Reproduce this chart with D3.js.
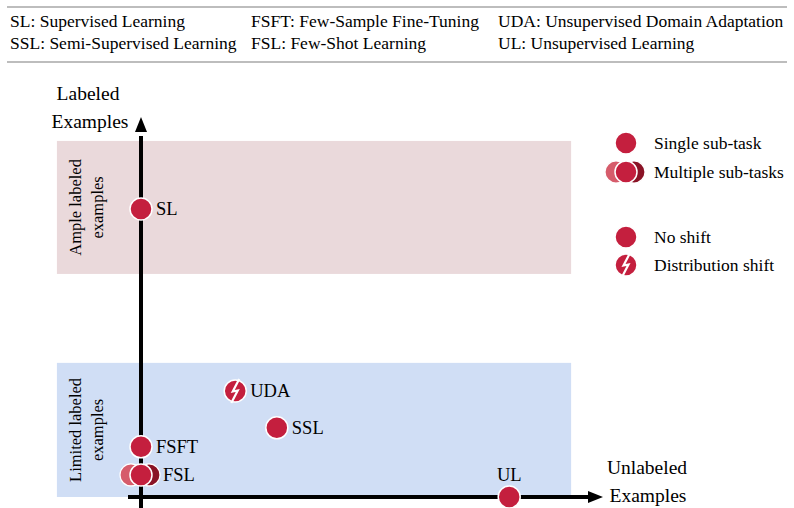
<!DOCTYPE html>
<html>
<head>
<meta charset="utf-8">
<script src="https://cdn.jsdelivr.net/npm/d3@7"></script>
<style>
  body { margin: 0; background: #fff; }
  svg { display: block; font-family: "Liberation Serif", "DejaVu Serif", serif; }
</style>
</head>
<body>
<div id="container"></div>
<script>
// abbreviations shown in the header
const abbrevCol1 = ["SL: Supervised Learning", "SSL: Semi-Supervised Learning"];
const abbrevCol2 = ["FSFT: Few-Sample Fine-Tuning", "FSL: Few-Shot Learning"];
const abbrevCol3 = ["UDA: Unsupervised Domain Adaptation", "UL: Unsupervised Learning"];

// settings: x = amount of unlabeled examples, y = amount of labeled examples (0-100)
const names = ["SL", "FSFT", "FSL", "UDA", "SSL", "UL"];
const unlabeled = [0, 0, 0, 20.4, 29.4, 79.7];
const labeled = [75.8, 13.2, 5.8, 27.9, 18.2, 0];
const multiTask = [false, false, true, false, false, false];
const shifted = [false, false, false, true, false, false];

// shaded bands (in the same units)
const bandNames = [["Ample labeled", "examples"], ["Limited labeled", "examples"]];
const bandTop = [93.7, 35.3];
const bandBottom = [58.7, 0];
const bandLeft = -18.2, bandRight = 93.1;
const bandColors = ["#ead9db", "#d0def5"];

const legendLabels = ["Single sub-task", "Multiple sub-tasks", "No shift", "Distribution shift"];

const width = 794, height = 508;
const red = "#c41f3e", redLight = "#d65c6b", redDark = "#8a1326";

const svg = d3.select("#container").append("svg")
    .attr("width", width)
    .attr("height", height);

const x = d3.scaleLinear().domain([0, 100]).range([141, 603]);
const y = d3.scaleLinear().domain([0, 100]).range([497, 117]);

/* header */
svg.selectAll(".rule")
    .data([7, 62])
    .enter().append("line")
    .attr("x1", 7).attr("x2", 787)
    .attr("y1", d => d).attr("y2", d => d)
    .attr("stroke", "#bdbdbd").attr("stroke-width", 2);

[[abbrevCol1, 10], [abbrevCol2, 251], [abbrevCol3, 498]].forEach(([col, cx]) => {
    svg.selectAll(null).data(col).enter().append("text")
        .attr("x", cx)
        .attr("y", (d, i) => 27 + i * 22)
        .attr("font-size", 17.5)
        .text(d => d);
});

/* bands */
const bands = svg.append("g");
bandNames.forEach((lines, i) => {
    bands.append("rect")
        .attr("x", x(bandLeft))
        .attr("y", y(bandTop[i]))
        .attr("width", x(bandRight) - x(bandLeft))
        .attr("height", y(bandBottom[i]) - y(bandTop[i]))
        .attr("fill", bandColors[i]);
    const cy = (y(bandTop[i]) + y(bandBottom[i])) / 2;
    const t = bands.append("text")
        .attr("transform", `translate(82, ${cy}) rotate(-90)`)
        .attr("text-anchor", "middle")
        .attr("font-size", 16.5);
    lines.forEach((l, j) => {
        t.append("tspan").attr("x", 0).attr("dy", j === 0 ? -1 : 22).text(l);
    });
});

/* axes */
const axes = svg.append("g").attr("stroke", "#000").attr("stroke-width", 4);
axes.append("line").attr("x1", x(0)).attr("x2", x(0)).attr("y1", 508).attr("y2", y(54.5));
axes.append("line").attr("x1", x(0)).attr("x2", x(0)).attr("y1", y(36.6)).attr("y2", y(95));
axes.append("line").attr("x1", x(0)).attr("x2", x(0)).attr("y1", y(54.5)).attr("y2", y(36.6))
    .attr("stroke-dasharray", "4 5").attr("stroke-dashoffset", -4);
axes.append("line").attr("x1", 128).attr("x2", x(97)).attr("y1", y(0)).attr("y2", y(0));
svg.append("path")
    .attr("d", `M${x(0)},${y(100)} L${x(0) - 6},${y(100) + 15} L${x(0) + 6},${y(100) + 15} Z`)
    .attr("fill", "#000");
svg.append("path")
    .attr("d", `M${x(100)},${y(0)} L${x(100) - 15},${y(0) - 6} L${x(100) - 15},${y(0) + 6} Z`)
    .attr("fill", "#000");

svg.append("text").attr("x", 88).attr("y", 100).attr("text-anchor", "middle").attr("font-size", 19.5).text("Labeled");
svg.append("text").attr("x", 90).attr("y", 128).attr("text-anchor", "middle").attr("font-size", 19.5).text("Examples");
svg.append("text").attr("x", 647).attr("y", 474).attr("text-anchor", "middle").attr("font-size", 19.5).text("Unlabeled");
svg.append("text").attr("x", 648).attr("y", 502).attr("text-anchor", "middle").attr("font-size", 19.5).text("Examples");

/* markers */
const R = 11;
function marker(g, multi, shift) {
    if (multi) {
        g.append("circle").attr("cx", -10).attr("r", R).attr("fill", redLight).attr("stroke", "#fff").attr("stroke-width", 1.2);
        g.append("circle").attr("cx", 8).attr("r", R).attr("fill", redDark).attr("stroke", "#fff").attr("stroke-width", 1.2);
    }
    g.append("circle").attr("r", R).attr("fill", red).attr("stroke", "#fff").attr("stroke-width", 1.5);
    if (shift) {
        g.append("path")
            .attr("d", "M4,-12 L-2.5,0.5 L2.5,-0.5 L-4,12")
            .attr("fill", "none").attr("stroke", "#fff").attr("stroke-width", 2.2)
            .attr("stroke-linejoin", "miter");
    }
}

names.forEach((n, i) => {
    const g = svg.append("g").attr("transform", `translate(${x(unlabeled[i])}, ${y(labeled[i])})`);
    marker(g, multiTask[i], shifted[i]);
    const lbl = g.append("text").attr("font-size", 18.5).text(n);
    if (labeled[i] === 0) {
        lbl.attr("text-anchor", "middle").attr("y", -16);
    } else {
        lbl.attr("x", multiTask[i] ? 22 : 15).attr("y", 6.5);
    }
});

/* legend */
const legendY = [143, 172, 237, 265];
legendLabels.forEach((l, i) => {
    const g = svg.append("g").attr("transform", `translate(626, ${legendY[i]})`);
    marker(g, i === 1, i === 3);
    g.append("text").attr("x", 28).attr("y", 6).attr("font-size", 17.5).text(l);
});
</script>
</body>
</html>
